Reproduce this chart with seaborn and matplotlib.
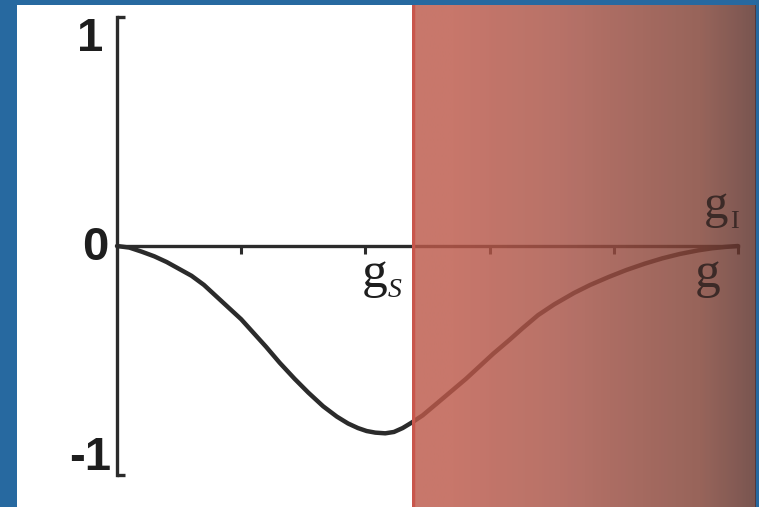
import numpy as np
import matplotlib
matplotlib.use("Agg")
import matplotlib.pyplot as plt
from matplotlib.colors import LinearSegmentedColormap
from matplotlib.patches import Rectangle
import seaborn as sns

# Response of the system as a function of g
g_values = [0.00, 0.10, 0.20, 0.30, 0.40, 0.50, 0.60, 0.70, 0.80, 0.90,
            1.00, 1.10, 1.20, 1.31, 1.43, 1.54, 1.66, 1.77, 1.86, 1.94,
            2.01, 2.08, 2.16, 2.23, 2.30, 2.37, 2.46, 2.57, 2.69, 2.81,
            2.92, 3.03, 3.16, 3.27, 3.39, 3.52, 3.68, 3.81, 3.96, 4.10,
            4.25, 4.39, 4.53, 4.68, 4.79, 4.90, 5.00]
response = [0.000, -0.007, -0.025, -0.045, -0.070, -0.100, -0.130, -0.170,
            -0.220, -0.270, -0.320, -0.380, -0.440, -0.510, -0.580, -0.640,
            -0.700, -0.745, -0.775, -0.795, -0.808, -0.815, -0.818, -0.812,
            -0.795, -0.772, -0.740, -0.690, -0.635, -0.580, -0.525, -0.470,
            -0.410, -0.357, -0.302, -0.255, -0.205, -0.170, -0.135, -0.105,
            -0.077, -0.054, -0.035, -0.019, -0.010, -0.004, 0.000]

y_tick_values = [1, 0, -1]
y_tick_labels = ["1", "0", "-1"]
x_tick_values = [1, 2, 3, 4, 5]

W, H = 759, 507
BLUE = "#2769a0"
INK = "#2b2b2b"

sns.set_theme(style="white")

fig = plt.figure(figsize=(W / 100, H / 100), dpi=100, facecolor=BLUE)


def fx(px):
    return px / W


def fy(py):
    return 1 - py / H


# white card
fig.patches.append(Rectangle((fx(17), 0), fx(755) - fx(17), fy(5),
                             transform=fig.transFigure, facecolor="white",
                             edgecolor="none", zorder=-1))

ax = fig.add_axes([fx(117), fy(475), fx(738) - fx(117), fy(17) - fy(475)])
ax.patch.set_alpha(0)
ax.set_xlim(0, 5)
ax.set_ylim(-1, 1)

sns.lineplot(x=g_values, y=response, ax=ax, color=INK, linewidth=3.2,
             solid_capstyle="round", solid_joinstyle="round", clip_on=False)

for side in ("top", "right"):
    ax.spines[side].set_visible(False)
ax.spines["left"].set_color(INK)
ax.spines["left"].set_linewidth(2.4)
ax.spines["bottom"].set_position(("data", 0))
ax.spines["bottom"].set_color(INK)
ax.spines["bottom"].set_linewidth(2.4)

ax.set_xticks(x_tick_values)
ax.set_yticks([])
ax.tick_params(axis="x", direction="out", length=6, width=2.2, color=INK,
               labelbottom=False, bottom=True)

# end caps on the vertical axis
for yv in (1, -1):
    ax.plot([0, 0.065], [yv, yv], color=INK, lw=2.4, clip_on=False,
            solid_capstyle="butt")

# y labels
num_font = dict(family="Liberation Sans", weight="bold", size=34, color="#1e1e1e")
fig.text(fx(103), fy(17), y_tick_labels[0], ha="right", va="top", **num_font)
fig.text(fx(108), fy(248), y_tick_labels[1], ha="right", va="center", **num_font)
fig.text(fx(111), fy(480), y_tick_labels[2], ha="right", va="bottom", **num_font)

# g labels
g_font = dict(family="Liberation Serif", color="#1e1e1e")
fig.text(fx(362), fy(287), "g", ha="left", va="baseline", size=37, **g_font)
fig.text(fx(388), fy(297), "S", ha="left", va="baseline", size=20,
         style="italic", **g_font)

dark_font = dict(family="Liberation Serif", color="#3c2a27", zorder=10)
fig.text(fx(695), fy(287), "g", ha="left", va="baseline", size=37, **dark_font)
fig.text(fx(704), fy(218), "g", ha="left", va="baseline", size=35, **dark_font)
fig.text(fx(730), fy(228), "I", ha="left", va="baseline", size=19, **dark_font)

# shaded region on the right
stops = [(0.0, "#bc5a4a"), (0.12, "#bc594a"), (0.43, "#a85347"),
         (0.84, "#814236"), (1.0, "#5c302a")]
cmap = LinearSegmentedColormap.from_list("shade", stops)
ov = fig.add_axes([fx(412), 0, fx(756) - fx(412), fy(5)], zorder=5)
ov.imshow(np.linspace(0, 1, 256)[None, :], aspect="auto", cmap=cmap,
          alpha=0.82, extent=[0, 1, 0, 1], interpolation="bilinear")
ov.set_xlim(0, 1)
ov.set_ylim(0, 1)
ov.axis("off")
ov.axvline(0.004, color="#c8564c", lw=2.5)

fig.savefig("out.png", dpi=100, facecolor=BLUE)
